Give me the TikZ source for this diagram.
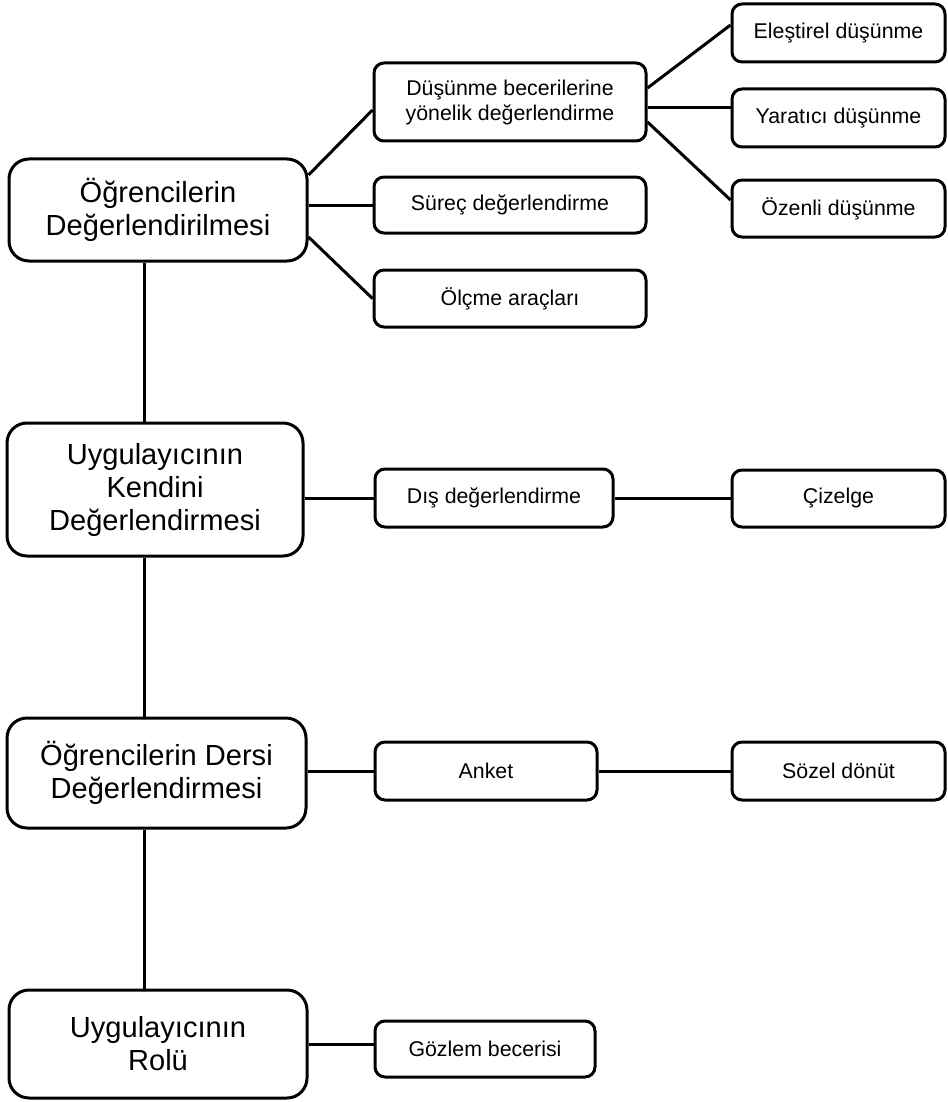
\documentclass[tikz,border=0pt]{standalone}
\usepackage{fontspec}
\setmainfont{Liberation Sans}
\usetikzlibrary{calc}
\begin{document}
\begin{tikzpicture}[x=0.75pt,y=-0.75pt,
  line width=2.25pt, line join=round,
  sz/.style 2 args={minimum width=#1*0.75pt, minimum height=#2*0.75pt},
  mainbox/.style={draw, rounded corners=15pt, inner sep=0pt, align=center,
    font=\fontsize{21.8}{24.75}\selectfont},
  subbox/.style={draw, rounded corners=7.5pt, inner sep=0pt, align=center,
    font=\fontsize{16}{18.75}\selectfont},
  link/.style={line width=2.25pt}]
\useasboundingbox (0,0) rectangle (947,1102);

% main column
\node[mainbox, sz={298}{102}] (L1) at (158,210) {Öğrencilerin\\Değerlendirilmesi};
\node[mainbox, sz={296}{133}] (L2) at (155,489.5) {Uygulayıcının\\Kendini\\Değerlendirmesi};
\node[mainbox, sz={299}{110}] (L3) at (156.5,773) {Öğrencilerin Dersi\\Değerlendirmesi};
\node[mainbox, sz={298}{108}] (L4) at (158,1044) {Uygulayıcının\\Rolü};

% second column
\node[subbox, sz={272}{78}] (M1) at (510,102) {Düşünme becerilerine\\yönelik değerlendirme};
\node[subbox, sz={272}{56}] (M2) at (510,205) {Süreç değerlendirme};
\node[subbox, sz={272}{57}] (M3) at (510,298.5) {Ölçme araçları};
\node[subbox, sz={238}{58}] (M4) at (494,498) {Dış değerlendirme};
\node[subbox, sz={222}{58}] (M5) at (486,771) {Anket};
\node[subbox, sz={220}{56}] (M6) at (485,1049) {Gözlem becerisi};

% third column
\node[subbox, sz={213}{58}] (R1) at (838.5,33) {Eleştirel düşünme};
\node[subbox, sz={213}{58}] (R2) at (838.5,118) {Yaratıcı düşünme};
\node[subbox, sz={213}{57}] (R3) at (838.5,208.5) {Özenli düşünme};
\node[subbox, sz={213}{57}] (R4) at (838.5,498.5) {Çizelge};
\node[subbox, sz={213}{58}] (R5) at (838.5,771) {Sözel dönüt};

% vertical spine
\coordinate (spine) at (144,0);
\draw[link] (L1.south -| spine) -- (L2.north -| spine);
\draw[link] (L2.south -| spine) -- (L3.north -| spine);
\draw[link] (L3.south -| spine) -- (L4.north -| spine);

% branches from the first main box
\draw[link] ([yshift=26.25pt]L1.east) -- ([yshift=-6pt]M1.west);
\draw[link] (M2.west -| L1.east) -- (M2.west);
\draw[link] ([yshift=-20.25pt]L1.east) -- (M3.west);

% thinking skills
\draw[link] ([yshift=10.5pt]M1.east) -- ([yshift=6pt]R1.west);
\draw[link] ([yshift=-4.5pt]M1.east) -- ([yshift=-4.5pt]M1.east -| R2.west);
\draw[link] ([yshift=-15pt]M1.east) -- ([yshift=6.4pt]R3.west);

% remaining branches
\draw[link] (M4.west -| L2.east) -- (M4.west);
\draw[link] (M4.east) -- (M4.east -| R4.west);
\draw[link] (M5.west -| L3.east) -- (M5.west);
\draw[link] (M5.east) -- (M5.east -| R5.west);
\draw[link] (L4.east) -- (L4.east -| M6.west);
\end{tikzpicture}
\end{document}
